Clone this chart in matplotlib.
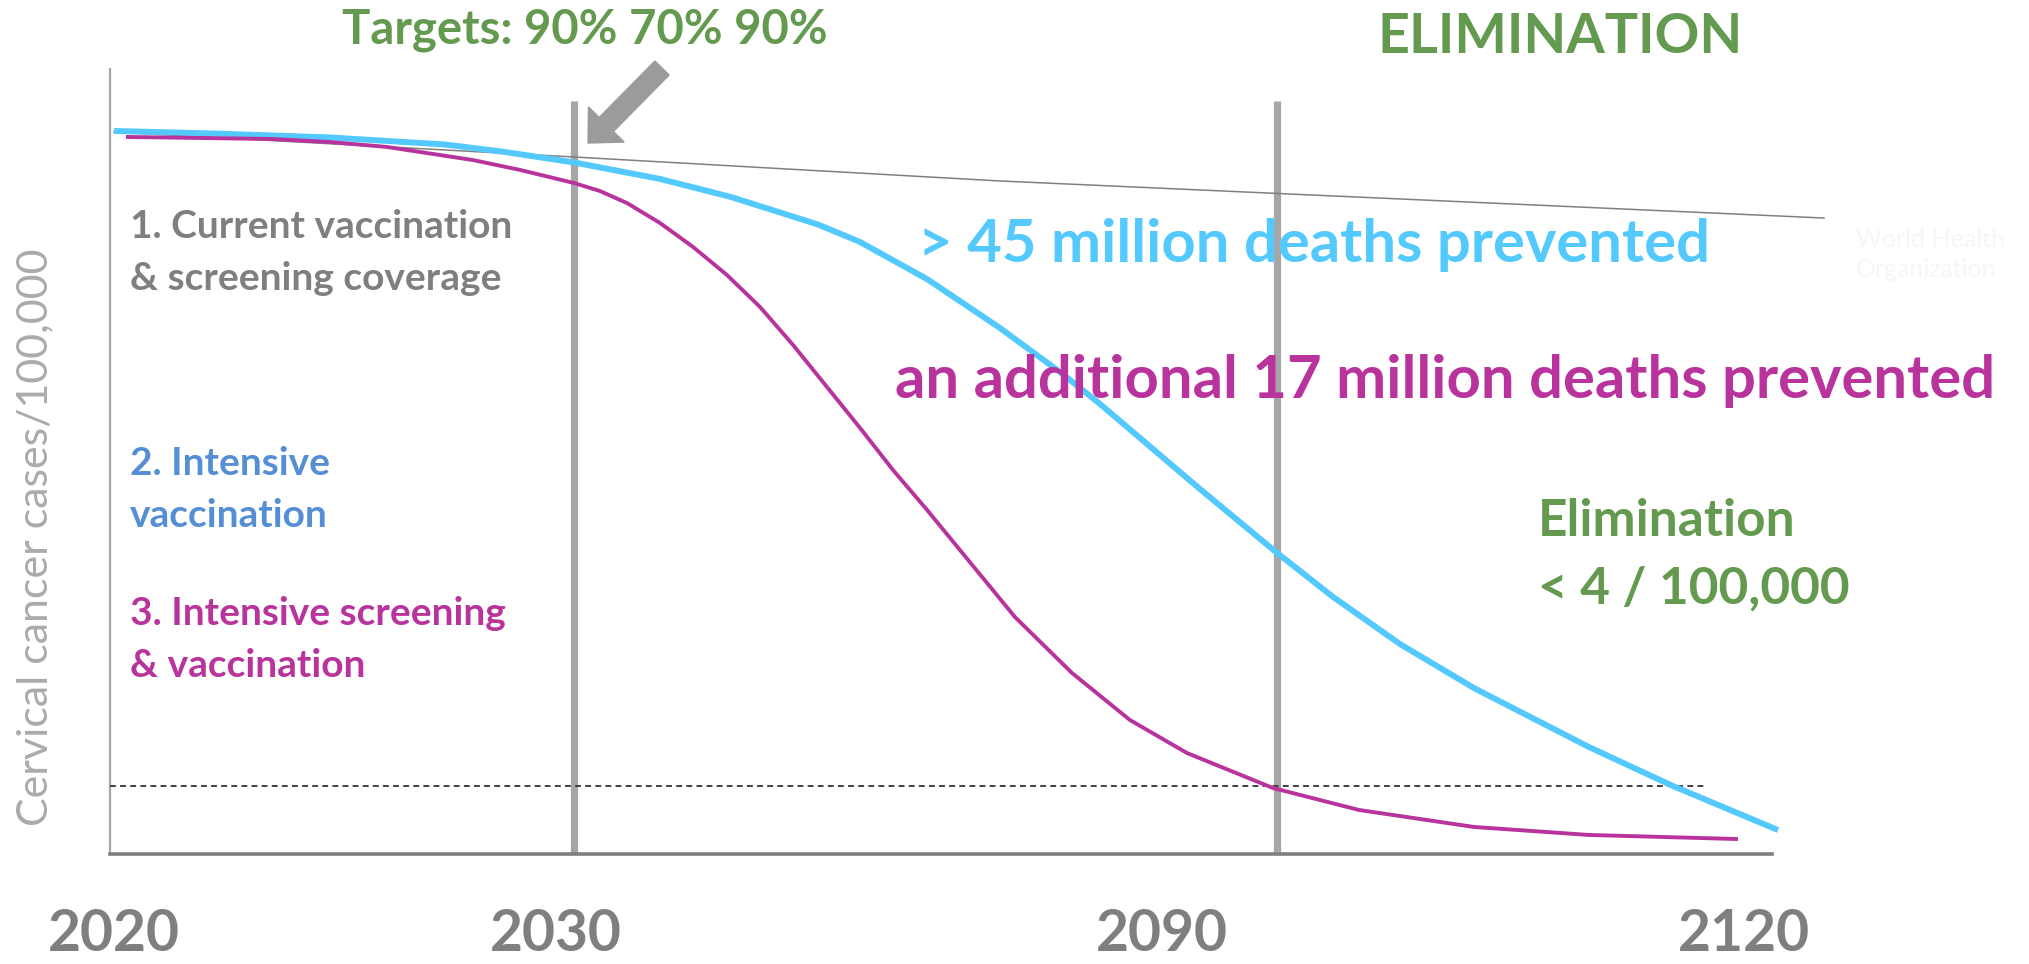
import matplotlib
matplotlib.use("Agg")
import matplotlib.pyplot as plt
import matplotlib.transforms as mtransforms
from matplotlib.patches import FancyArrow

# ---- data (schematic timeline 0-100, incidence per 100,000 women) ----
cyan_x = [0.24, 6.32, 13.24, 20.10, 23.59, 27.92, 33.09, 37.36, 42.60, 45.13,
          49.16, 53.55, 57.16, 59.57, 65.58, 70.16, 73.59, 77.62, 82.07, 88.99,
          94.04, 100.36]
cyan_y = [42.53, 42.38, 42.15, 41.74, 41.32, 40.68, 39.71, 38.65, 37.03, 36.00,
          33.82, 30.94, 28.35, 26.47, 21.47, 17.76, 15.12, 12.35, 9.76, 6.29,
          4.00, 1.41]

magenta_x = [0.96, 9.75, 13.24, 16.67, 21.84, 24.67, 27.92, 29.48, 31.11, 33.09,
             35.08, 37.12, 39.11, 41.10, 43.14, 45.13, 47.11, 49.16, 51.14, 54.45,
             57.88, 61.37, 64.80, 69.98, 75.15, 82.07, 88.99, 97.95]
magenta_y = [42.18, 42.06, 41.88, 41.59, 40.82, 40.24, 39.47, 39.00, 38.29, 37.12,
             35.71, 34.06, 32.18, 29.94, 27.47, 25.06, 22.59, 20.24, 17.88, 13.94,
             10.65, 7.88, 5.94, 3.88, 2.59, 1.59, 1.12, 0.88]

current_x = [0.24, 27.92, 53.55, 103.13]
current_y = [42.47, 41.0, 39.59, 37.41]

milestones_x = [27.92, 70.2]
milestone_top = 44.29
elimination_threshold = 4.0
threshold_end = 96.0

tick_labels = ["2020", "2030", "2090", "2120"]
tick_pos = [0.24, 26.8, 63.3, 98.3]

# ---- colours ----
GREEN = "#649A4F"
GREY_TXT = "#7F7F7F"
BLUE_TXT = "#558ED5"
MAGENTA = "#B8339C"
CYAN = "#53C9FD"
LINE_GREY = "#A6A6A6"

W, H = 2029, 964
fig = plt.figure(figsize=(W / 100, H / 100), dpi=100)
fig.patch.set_facecolor("white")

# pixel coordinates measured from the top-left corner
px = mtransforms.Affine2D().scale(1 / W, -1 / H).translate(0, 1) + fig.transFigure

ax_left, ax_right, ax_top, ax_bottom = 110, 1772, 69, 854
ax = fig.add_axes([ax_left / W, (H - ax_bottom) / H,
                   (ax_right - ax_left) / W, (ax_bottom - ax_top) / H])
ax.set_xlim(0, 100)
ax.set_ylim(0, (ax_bottom - ax_top) / 17.0)
ax.set_facecolor("none")
for s in ("top", "right"):
    ax.spines[s].set_visible(False)
ax.spines["left"].set_color(LINE_GREY)
ax.spines["left"].set_linewidth(1.6)
ax.spines["bottom"].set_color("#7F7F7F")
ax.spines["bottom"].set_linewidth(2.6)
ax.set_yticks([])
ax.set_xticks(tick_pos)
ax.set_xticklabels(tick_labels, fontfamily="Lato", fontweight="bold",
                   fontsize=41, color=GREY_TXT)
for lbl in ax.get_xticklabels():
    lbl.set_verticalalignment("baseline")
ax.tick_params(axis="x", length=0, pad=70)

# milestone verticals
ax.vlines(milestones_x, 0, milestone_top, colors=LINE_GREY, linewidth=5.2,
          clip_on=False, zorder=2)
# elimination threshold
ax.hlines(elimination_threshold, 0, threshold_end, colors="#404040",
          linewidth=1.4, linestyles=(0, (3, 2.2)), zorder=3)
# scenario curves
ax.plot(current_x, current_y, color="#808080", linewidth=1.1, clip_on=False, zorder=3)
ax.plot(cyan_x, cyan_y, color=CYAN, linewidth=4.3, clip_on=False, zorder=4,
        solid_capstyle="butt", solid_joinstyle="round")
ax.plot(magenta_x, magenta_y, color=MAGENTA, linewidth=2.8, clip_on=False, zorder=5,
        solid_capstyle="butt", solid_joinstyle="round")

# y-axis title
fig.text(35, 537, "Cervical cancer cases/100,000", transform=px, rotation=90,
         ha="center", va="center", fontfamily="Lato", fontweight="normal",
         fontsize=31, color="#ABABAB")

# headline texts
fig.text(342, 43, "Targets: 90% 70% 90%", transform=px, ha="left", va="baseline",
         fontfamily="Lato", fontweight="bold", fontsize=34, color=GREEN)
fig.text(1560, 53, "ELIMINATION", transform=px, ha="center", va="baseline",
         fontfamily="Lato", fontweight="bold", fontsize=40, color=GREEN)

# target arrow
arrow = FancyArrow(662, 68, -55.7, 56.5, width=20, head_width=50,
                   head_length=26, length_includes_head=False,
                   color="#9B9B9B", transform=px, figure=fig)
fig.patches.append(arrow)

# scenario labels
lab = dict(transform=px, ha="left", va="baseline", fontfamily="Lato",
           fontweight="bold", fontsize=28)
fig.text(130, 238, "1. Current vaccination", color=GREY_TXT, **lab)
fig.text(130, 290, "& screening coverage", color=GREY_TXT, **lab)
fig.text(130, 475, "2. Intensive", color=BLUE_TXT, **lab)
fig.text(130, 527, "vaccination", color=BLUE_TXT, **lab)
fig.text(130, 625, "3. Intensive screening", color=MAGENTA, **lab)
fig.text(130, 677, "& vaccination", color=MAGENTA, **lab)

big = dict(transform=px, ha="left", va="baseline", fontfamily="Lato",
           fontweight="bold", fontsize=43)
fig.text(918, 262, "> 45 million deaths prevented", color=CYAN, **big)
fig.text(895, 398, "an additional 17 million deaths prevented", color=MAGENTA, **big)

el = dict(transform=px, ha="left", va="baseline", fontfamily="Lato",
          fontweight="bold", fontsize=37, color=GREEN)
fig.text(1538, 536, "Elimination", **el)
fig.text(1538, 604, "< 4 / 100,000", **el)

# faint organisation mark
fig.text(1856, 247, "World Health", transform=px, ha="left", va="baseline",
         fontfamily="Lato", fontsize=18, color="#F6F6F6")
fig.text(1856, 277, "Organization", transform=px, ha="left", va="baseline",
         fontfamily="Lato", fontsize=18, color="#F6F6F6")

fig.savefig("out.png", dpi=100, facecolor="white")
